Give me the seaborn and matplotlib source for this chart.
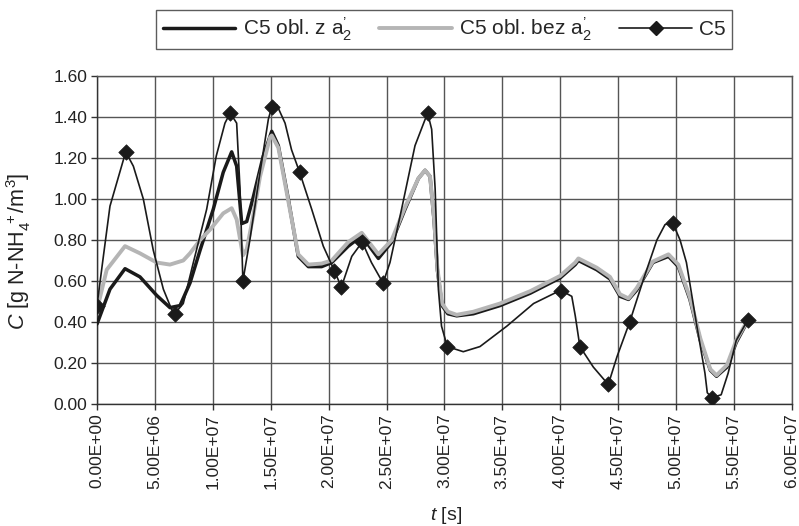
import numpy as np
import pandas as pd
import seaborn as sns
import matplotlib.pyplot as plt
from matplotlib.lines import Line2D
from matplotlib.ticker import FuncFormatter, MultipleLocator

# model with a2' (black thick), time in 1e6 s
z_t = [0, 1.12, 2.42, 3.71, 5.15, 6.3, 7.17, 8.03, 8.9, 10.04,
       10.9, 11.63, 12.06, 12.5, 12.93, 13.5, 14.36, 15.09, 15.66, 16.52,
       17.38, 18.25, 19.4, 20.27, 21.7, 22.86, 24.3, 25.45, 26.6, 27.75,
       28.33, 28.76, 29.1, 29.4, 29.8, 30.3, 31.06, 32.5, 34.8, 37.4,
       40.0, 41.3, 41.57, 43.15, 44.3, 45.17, 45.9, 46.6, 48.0, 49.35,
       50.2, 51.2, 52.1, 52.96, 53.5, 54.4, 55.2, 56.1]
z_c = [0.39, 0.56, 0.66, 0.62, 0.53, 0.47, 0.48, 0.59, 0.75, 0.95,
       1.13, 1.23, 1.16, 0.88, 0.89, 1.01, 1.21, 1.33, 1.26, 1.00,
       0.72, 0.67, 0.67, 0.69, 0.77, 0.82, 0.71, 0.79, 0.95, 1.10,
       1.14, 1.11, 0.90, 0.65, 0.48, 0.44, 0.43, 0.44, 0.48, 0.54,
       0.615, 0.68, 0.70, 0.655, 0.61, 0.525, 0.51, 0.555, 0.69, 0.72,
       0.67, 0.51, 0.31, 0.165, 0.135, 0.18, 0.30, 0.395]

# model without a2' (grey thick)
bez_t = [0, 0.84, 2.42, 3.71, 5.15, 6.3, 7.45, 8.03, 8.9, 9.76,
         10.9, 11.63, 12.06, 12.6, 12.93, 13.5, 14.08, 14.94, 15.09, 15.66,
         16.52, 17.38, 18.25, 19.4, 20.27, 21.7, 22.86, 24.3, 25.45, 26.6,
         27.75, 28.33, 28.76, 29.1, 29.4, 29.8, 30.3, 31.06, 32.5, 34.8,
         37.4, 40.0, 41.3, 41.57, 43.15, 44.3, 45.17, 45.9, 46.6, 48.0,
         49.35, 50.2, 51.2, 52.1, 52.96, 53.5, 54.4, 55.2, 56.1]
bez_c = [0.46, 0.655, 0.77, 0.735, 0.69, 0.68, 0.70, 0.735, 0.80, 0.85,
         0.93, 0.955, 0.90, 0.725, 0.755, 0.92, 1.11, 1.30, 1.31, 1.25,
         0.99, 0.73, 0.68, 0.685, 0.70, 0.79, 0.835, 0.73, 0.80, 0.96,
         1.10, 1.14, 1.11, 0.91, 0.66, 0.49, 0.45, 0.435, 0.45, 0.49,
         0.55, 0.625, 0.69, 0.71, 0.665, 0.62, 0.535, 0.515, 0.565, 0.695,
         0.73, 0.68, 0.52, 0.32, 0.17, 0.14, 0.19, 0.31, 0.40]

# measured C5 (markers)
c5_t = [0, 2.48, 6.7, 11.5, 12.6, 15.1, 17.5, 20.5, 21.1, 22.9,
        24.7, 28.55, 30.25, 40.04, 41.7, 44.15, 46.0, 49.7, 53.1, 56.2]
c5_c = [0.48, 1.23, 0.44, 1.42, 0.60, 1.45, 1.13, 0.65, 0.57, 0.79,
        0.59, 1.42, 0.28, 0.55, 0.28, 0.095, 0.40, 0.885, 0.03, 0.41]

# smoothed C5 line as drawn in the chart
c5_curve_t = [0, 0.55, 1.12, 2.48, 3.14, 4.0, 4.86, 5.73, 6.45, 6.7,
              7.45, 8.32, 9.47, 10.3, 11.05, 11.5, 12.06, 12.35, 12.6, 13.2,
              14.08, 14.8, 15.1, 15.52, 16.24, 16.8, 17.5, 18.54, 19.54, 20.5,
              21.1, 22.0, 22.9, 23.7, 24.7, 25.3, 26.3, 27.46, 28.55, 28.9,
              29.2, 29.48, 29.75, 30.25, 31.63, 33.07, 35.4, 37.7, 40.04, 41.0,
              41.3, 41.7, 42.86, 44.15, 44.9, 46.0, 47.2, 48.35, 49.05, 49.7,
              50.35, 50.9, 51.8, 52.5, 52.7, 53.1, 53.9, 54.5, 55.2, 56.2]
c5_curve_c = [0.48, 0.72, 0.965, 1.23, 1.16, 1.00, 0.75, 0.56, 0.46, 0.44,
              0.49, 0.69, 0.95, 1.21, 1.37, 1.42, 1.37, 1.05, 0.60, 0.80,
              1.13, 1.39, 1.45, 1.46, 1.37, 1.24, 1.13, 0.95, 0.77, 0.65,
              0.57, 0.72, 0.79, 0.69, 0.59, 0.69, 0.95, 1.26, 1.42, 1.34,
              1.05, 0.56, 0.38, 0.28, 0.255, 0.28, 0.38, 0.49, 0.555, 0.525,
              0.43, 0.28, 0.18, 0.095, 0.23, 0.40, 0.61, 0.80, 0.875, 0.885,
              0.80, 0.69, 0.38, 0.15, 0.055, 0.03, 0.045, 0.15, 0.31, 0.41]

labels = ["C5 obl. z a$_2^{\u2019}$", "C5 obl. bez a$_2^{\u2019}$", "C5"]

sns.set_style('white')
plt.rcParams['font.family'] = ['Liberation Sans', 'DejaVu Sans']
plt.rcParams['mathtext.fontset'] = 'custom'
plt.rcParams['mathtext.rm'] = 'Liberation Sans'
plt.rcParams['mathtext.it'] = 'Liberation Sans:italic'
plt.rcParams['mathtext.bf'] = 'Liberation Sans:bold'

df_z = pd.DataFrame({'t': np.array(z_t) * 1e6, 'C': z_c})
df_bez = pd.DataFrame({'t': np.array(bez_t) * 1e6, 'C': bez_c})
df_c5 = pd.DataFrame({'t': np.array(c5_t) * 1e6, 'C': c5_c})
df_curve = pd.DataFrame({'t': np.array(c5_curve_t) * 1e6, 'C': c5_curve_c})

fig = plt.figure(figsize=(7.99, 5.26), dpi=100)
ax = fig.add_axes([0.1214, 0.232, 0.8696, 0.6235])

sns.lineplot(data=df_z, x='t', y='C', ax=ax, color='#1a1a1a', linewidth=2.5,
             estimator=None, sort=False, zorder=3)
sns.lineplot(data=df_bez, x='t', y='C', ax=ax, color='#b5b5b5', linewidth=2.8,
             estimator=None, sort=False, zorder=4)
sns.lineplot(data=df_curve, x='t', y='C', ax=ax, color='#1a1a1a', linewidth=1.2,
             estimator=None, sort=False, zorder=5)
sns.scatterplot(data=df_c5, x='t', y='C', ax=ax, color='#1a1a1a', marker='D',
                s=62, edgecolor='#1a1a1a', linewidth=0.5, zorder=6)

ax.set_xlim(0, 6e7)
ax.set_ylim(0, 1.6)
ax.xaxis.set_major_locator(MultipleLocator(5e6))
ax.yaxis.set_major_locator(MultipleLocator(0.2))
ax.xaxis.set_major_formatter(FuncFormatter(lambda v, p: f"{v:.2E}"))
ax.yaxis.set_major_formatter(FuncFormatter(lambda v, p: f"{v:.2f}"))
ax.grid(True, color='#555555', linewidth=1.0)
ax.set_axisbelow(True)
for s in ax.spines.values():
    s.set_color('#555555')
    s.set_linewidth(1.0)
ax.spines['left'].set_color('#333333')
ax.spines['bottom'].set_color('#333333')
ax.tick_params(axis='both', direction='out', length=4, width=1, color='#333333',
               labelsize=12.5, labelcolor='#222222', bottom=True, left=True,
               pad=3)
plt.setp(ax.get_xticklabels(), rotation=90)

ax.set_xlabel('$\\it{t}$ [s]', fontsize=14, color='#222222')
ax.xaxis.set_label_coords(0.502, -0.308)
ax.set_ylabel('$\\it{C}$ [g N-NH$_4^{\\ +}$/m$^3$]', fontsize=15.5,
              color='#222222')
ax.yaxis.set_label_coords(-0.092, 0.466)

handles = [
    Line2D([], [], color='#1a1a1a', linewidth=2.5),
    Line2D([], [], color='#b5b5b5', linewidth=2.8),
    Line2D([], [], color='#1a1a1a', linewidth=1.2, marker='D', markersize=7),
]
leg = fig.legend(handles, labels, loc='center', bbox_to_anchor=(0.556, 0.944),
                 ncol=3, frameon=True, fancybox=False, fontsize=15,
                 handlelength=3.5, columnspacing=1.3, borderpad=0.3,
                 handletextpad=0.35, borderaxespad=0)
leg.get_frame().set_edgecolor('#333333')
leg.get_frame().set_linewidth(1.0)

fig.savefig('out.png', dpi=100)
